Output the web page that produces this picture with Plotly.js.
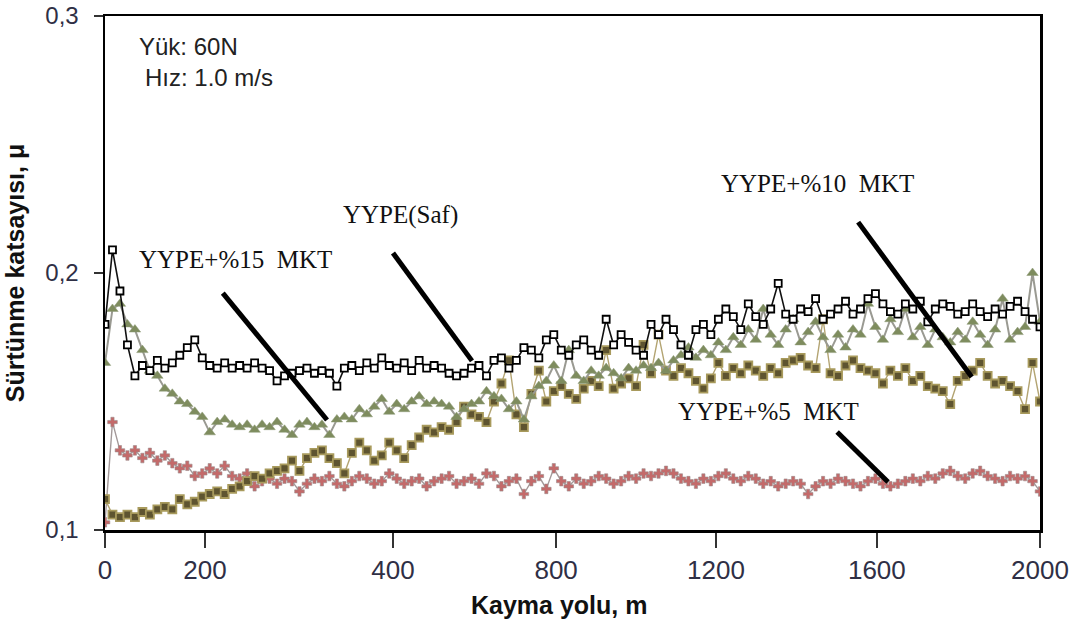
<!DOCTYPE html>
<html><head><meta charset="utf-8">
<script src="https://cdn.plot.ly/plotly-3.0.1.min.js"></script>
<style>html,body{margin:0;padding:0;background:#fff}#chart{width:1077px;height:624px}</style>
</head><body><div id="chart"></div>
<script>
const distance = [0,16,32,48,64,80,96,112,128,144,160,176,192,208,224,240,256,272,288,304,320,336,352,368,384,400,416,432,448,464,480,496,512,528,544,560,576,592,608,624,640,656,672,688,704,720,736,752,768,784,800,816,832,848,864,880,896,912,928,944,960,976,992,1008,1024,1040,1056,1072,1088,1104,1120,1136,1152,1168,1184,1200,1216,1232,1248,1264,1280,1296,1312,1328,1344,1360,1376,1392,1408,1424,1440,1456,1472,1488,1504,1520,1536,1552,1568,1584,1600,1616,1632,1648,1664,1680,1696,1712,1728,1744,1760,1776,1792,1808,1824,1840,1856,1872,1888,1904,1920,1936,1952,1968,1984,2000];

const yypeSaf = [0.180,0.209,0.193,0.172,0.160,0.164,0.162,0.166,0.163,0.165,
0.168,0.171,0.174,0.167,0.164,0.163,0.165,0.163,0.164,0.163,
0.165,0.163,0.162,0.158,0.160,0.161,0.162,0.163,0.161,0.162,
0.161,0.156,0.163,0.164,0.162,0.165,0.163,0.167,0.164,0.163,
0.165,0.162,0.166,0.163,0.164,0.163,0.161,0.160,0.161,0.163,
0.164,0.160,0.166,0.167,0.163,0.166,0.171,0.170,0.167,0.174,
0.176,0.170,0.168,0.172,0.174,0.170,0.168,0.182,0.172,0.176,
0.173,0.170,0.168,0.180,0.176,0.182,0.178,0.172,0.168,0.178,
0.180,0.176,0.182,0.186,0.183,0.178,0.188,0.183,0.180,0.186,
0.196,0.184,0.182,0.186,0.185,0.190,0.182,0.184,0.186,0.189,
0.184,0.186,0.190,0.192,0.188,0.185,0.184,0.188,0.186,0.189,
0.181,0.186,0.188,0.187,0.184,0.185,0.188,0.185,0.183,0.186,
0.184,0.187,0.189,0.185,0.182,0.179];

const yype15 = [0.165,0.186,0.188,0.180,0.178,0.170,0.162,0.160,0.155,0.153,
0.150,0.149,0.146,0.144,0.138,0.142,0.143,0.141,0.140,0.141,
0.139,0.141,0.140,0.142,0.139,0.137,0.141,0.142,0.140,0.141,
0.137,0.143,0.144,0.143,0.147,0.145,0.148,0.151,0.146,0.149,
0.147,0.150,0.152,0.149,0.150,0.149,0.148,0.144,0.147,0.149,
0.150,0.154,0.152,0.151,0.147,0.150,0.143,0.152,0.156,0.158,
0.164,0.158,0.170,0.160,0.158,0.162,0.160,0.163,0.161,0.159,
0.163,0.162,0.164,0.163,0.165,0.162,0.166,0.168,0.171,0.167,
0.170,0.168,0.173,0.170,0.175,0.172,0.178,0.174,0.186,0.176,
0.172,0.178,0.182,0.173,0.177,0.181,0.175,0.170,0.176,0.171,
0.178,0.176,0.188,0.179,0.174,0.182,0.177,0.186,0.175,0.179,
0.172,0.178,0.175,0.173,0.177,0.174,0.181,0.176,0.172,0.178,
0.190,0.174,0.177,0.179,0.200,0.181];

const yype10 = [0.112,0.106,0.105,0.106,0.105,0.107,0.106,0.108,0.109,0.108,
0.112,0.110,0.111,0.113,0.114,0.115,0.114,0.116,0.117,0.119,
0.121,0.120,0.122,0.123,0.124,0.127,0.123,0.128,0.130,0.131,
0.128,0.126,0.122,0.130,0.134,0.131,0.127,0.129,0.134,0.131,
0.128,0.133,0.136,0.139,0.138,0.140,0.139,0.142,0.148,0.145,
0.144,0.142,0.150,0.157,0.166,0.145,0.140,0.153,0.162,0.150,
0.154,0.156,0.153,0.151,0.155,0.158,0.156,0.170,0.155,0.157,
0.159,0.156,0.172,0.161,0.176,0.162,0.160,0.163,0.161,0.158,
0.155,0.159,0.165,0.160,0.163,0.161,0.164,0.162,0.160,0.163,
0.161,0.165,0.166,0.167,0.164,0.163,0.182,0.161,0.160,0.164,
0.166,0.163,0.162,0.161,0.157,0.162,0.160,0.163,0.158,0.160,
0.156,0.155,0.154,0.149,0.158,0.160,0.162,0.165,0.160,0.157,
0.158,0.156,0.154,0.147,0.165,0.150];

const yype5 = [0.103,0.142,0.131,0.129,0.131,0.128,0.130,0.127,0.129,0.126,
0.124,0.125,0.121,0.122,0.124,0.122,0.125,0.121,0.120,0.122,
0.117,0.119,0.120,0.118,0.120,0.119,0.115,0.118,0.120,0.119,
0.121,0.118,0.117,0.119,0.121,0.120,0.118,0.119,0.122,0.120,
0.118,0.119,0.120,0.117,0.119,0.120,0.121,0.118,0.119,0.120,
0.118,0.122,0.121,0.117,0.119,0.120,0.114,0.119,0.121,0.116,
0.124,0.119,0.117,0.120,0.118,0.119,0.121,0.120,0.118,0.119,
0.121,0.120,0.122,0.121,0.122,0.123,0.122,0.120,0.119,0.118,
0.120,0.119,0.121,0.122,0.120,0.119,0.121,0.120,0.118,0.119,
0.117,0.118,0.119,0.118,0.114,0.117,0.119,0.118,0.120,0.119,
0.118,0.117,0.119,0.120,0.118,0.117,0.118,0.119,0.120,0.119,
0.121,0.120,0.122,0.123,0.121,0.120,0.122,0.123,0.121,0.120,
0.119,0.121,0.120,0.121,0.119,0.115];

const seriesNames = ['YYPE+%5  MKT','YYPE+%10  MKT','YYPE+%15  MKT','YYPE(Saf)'];
const xTickVals = [0,214,616,965,1307,1651,2000];
const xTickText = ['0','200','400','800','1200','1600','2000'];
const yTickVals = [0.1,0.2,0.3];
const yTickText = ['0,1','0,2','0,3'];

const data = [
  {x: distance, y: yype5, name: seriesNames[0], type:'scatter', mode:'lines+markers',
   line:{color:'#a39999', width:1.4},
   marker:{symbol:'cross', size:8, color:'#c46a6a', line:{color:'#9a8c8c', width:0.6}}},
  {x: distance, y: yype10, name: seriesNames[1], type:'scatter', mode:'lines+markers',
   line:{color:'#b3a472', width:1.4},
   marker:{symbol:'square', size:8, color:'#5e5430', line:{color:'#a89a5c', width:1.8}}},
  {x: distance, y: yype15, name: seriesNames[2], type:'scatter', mode:'lines+markers',
   line:{color:'#9a9a92', width:2},
   marker:{symbol:'triangle-up', size:10, color:'#7e8c5e', line:{color:'#8f9a78', width:0.5}}},
  {x: distance, y: yypeSaf, name: seriesNames[3], type:'scatter', mode:'lines+markers',
   line:{color:'#111111', width:1.6},
   marker:{symbol:'square', size:7, color:'#ffffff', line:{color:'#000000', width:1.8}}}
];

const serif = {family:'"Liberation Serif", "Times New Roman", serif', size:25, color:'#111'};
const sans = {family:'"Liberation Sans", Arial, sans-serif', size:24, color:'#222'};

const layout = {
  width:1077, height:624,
  margin:{l:105, r:37, t:16, b:94},
  paper_bgcolor:'#fff', plot_bgcolor:'#fff',
  showlegend:false,
  xaxis:{range:[0,2000], tickmode:'array', tickvals:xTickVals, ticktext:xTickText,
    ticks:'outside', ticklen:15, tickwidth:2.5, tickcolor:'#333',
    showline:true, mirror:true, linecolor:'#000', linewidth:2.5,
    showgrid:false, zeroline:false,
    tickfont:{family:'"Liberation Sans", Arial, sans-serif', size:26, color:'#2f2f45'}},
  yaxis:{range:[0.1,0.3], tickmode:'array', tickvals:yTickVals, ticktext:yTickText,
    ticks:'outside', ticklen:9, tickwidth:2, tickcolor:'#333',
    ticklabelstandoff:10,
    showline:true, mirror:true, linecolor:'#000', linewidth:2.5,
    showgrid:false, zeroline:false,
    tickfont:{family:'"Liberation Sans", Arial, sans-serif', size:24, color:'#2f2f45'},
    title:{text:'Sürtünme katsayısı, μ', standoff:14,
      font:{family:'"Liberation Sans", Arial, sans-serif', size:25, color:'#111', weight:'bold'}}},
  shapes:[
    {type:'line', xref:'x', yref:'y', x0:252, y0:0.1922, x1:475, y1:0.1428, line:{color:'#000', width:5}},
    {type:'line', xref:'x', yref:'y', x0:616, y0:0.2078, x1:785, y1:0.1658, line:{color:'#000', width:5}},
    {type:'line', xref:'x', yref:'y', x0:1611, y0:0.2198, x1:1854, y1:0.1595, line:{color:'#000', width:5}},
    {type:'line', xref:'x', yref:'y', x0:1566, y0:0.1381, x1:1675, y1:0.1187, line:{color:'#000', width:5}}
  ],
  annotations:[
    {text:'YYPE+%15\u00a0\u00a0MKT', xref:'x', yref:'y', x:279, y:0.2051, showarrow:false, font:serif},
    {text:'YYPE(Saf)', xref:'x', yref:'y', x:633, y:0.2226, showarrow:false, font:serif},
    {text:'YYPE+%10\u00a0\u00a0MKT', xref:'x', yref:'y', x:1525, y:0.2350, showarrow:false, font:serif},
    {text:'YYPE+%5\u00a0\u00a0MKT', xref:'x', yref:'y', x:1420, y:0.1463, showarrow:false, font:serif},
    {text:'Yük: 60N', xref:'x', yref:'y', x:68, y:0.2883, xanchor:'left', showarrow:false, font:sans},
    {text:'Hız: 1.0 m/s', xref:'x', yref:'y', x:81, y:0.2759, xanchor:'left', showarrow:false, font:sans},
    {text:'Kayma yolu, m', xref:'paper', yref:'paper', x:0.4854, y:-0.145, xanchor:'center', yanchor:'middle', showarrow:false,
     font:{family:'"Liberation Sans", Arial, sans-serif', size:25, color:'#111', weight:'bold'}}
  ]
};

Plotly.newPlot('chart', data, layout, {staticPlot:true});
</script>
</body></html>
